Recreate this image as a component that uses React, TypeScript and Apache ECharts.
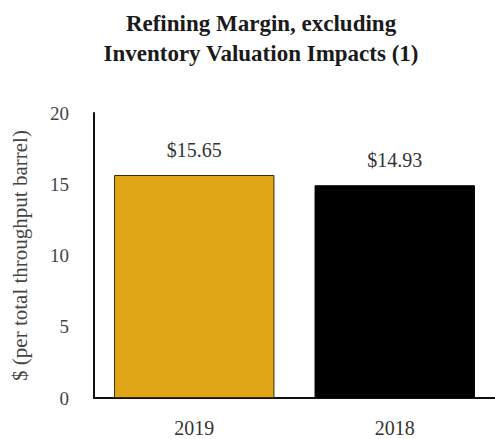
import React, { useEffect, useRef } from "react";
import * as echarts from "echarts";

const categories = ["2019", "2018"];
const values = [15.65, 14.93];
const valueLabels = ["$15.65", "$14.93"];
const barColors = ["#E0A618", "#000000"];
const titleLines = ["Refining Margin, excluding", "Inventory Valuation Impacts (1)"];
const yAxisName = "$ (per total throughput barrel)";

const FONT = '"Liberation Serif", "Times New Roman", serif';

export default function App() {
  const ref = useRef<HTMLDivElement>(null);
  useEffect(() => {
    if (!ref.current) return;
    const chart = echarts.init(ref.current, null, { renderer: "svg" });
    chart.setOption({
      animation: false,
      backgroundColor: "#ffffff",
      title: {
        text: titleLines.join("\n"),
        left: 256,
        top: 3,
        textAlign: "center",
        textStyle: {
          fontFamily: FONT,
          fontWeight: "bold",
          fontSize: 23,
          lineHeight: 30,
          color: "#1a1a1a",
        },
      },
      grid: { left: 94, right: 0, top: 113, bottom: 41, containLabel: false },
      xAxis: {
        type: "category",
        data: categories,
        axisLine: { show: true, lineStyle: { color: "#111", width: 2 } },
        axisTick: { show: false },
        axisLabel: {
          fontFamily: FONT,
          fontSize: 20,
          color: "#333",
          margin: 20,
        },
      },
      yAxis: {
        type: "value",
        min: 0,
        max: 20,
        interval: 5,
        name: yAxisName,
        nameLocation: "middle",
        nameGap: 64,
        nameTextStyle: { fontFamily: FONT, fontSize: 21, color: "#444" },
        axisLine: { show: true, lineStyle: { color: "#111", width: 2 } },
        axisTick: { show: false },
        splitLine: { show: false },
        axisLabel: {
          fontFamily: FONT,
          fontSize: 19,
          color: "#444",
          margin: 25,
        },
      },
      series: [
        {
          type: "bar",
          barWidth: "80%",
          data: values.map((v, i) => ({
            value: v,
            itemStyle: {
              color: barColors[i],
              borderColor: i === 0 ? "#3a2a05" : "#000",
              borderWidth: 1,
            },
            label: {
              show: true,
              position: "top",
              distance: 15,
              formatter: valueLabels[i],
              fontFamily: FONT,
              fontSize: 20,
              color: "#333",
            },
          })),
        },
      ],
    });
    return () => chart.dispose();
  }, []);
  return (
    <div
      ref={ref}
      style={{ position: "fixed", left: 0, top: 0, width: 495, height: 439 }}
    />
  );
}
